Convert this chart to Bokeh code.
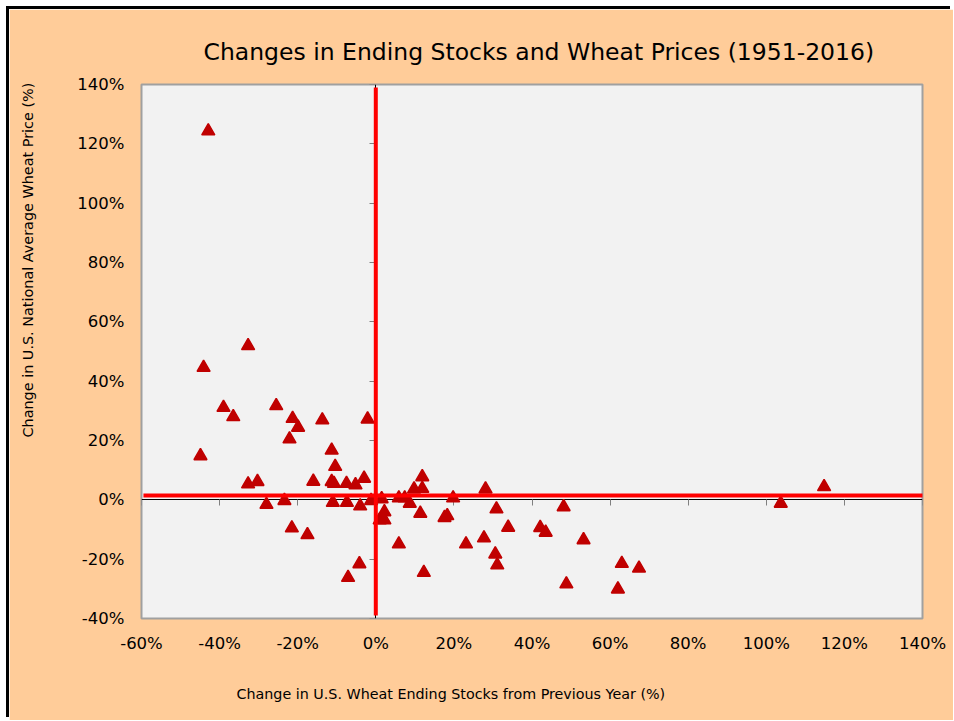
from bokeh.plotting import figure
from bokeh.models import Range1d, LinearAxis, FixedTicker, PrintfTickFormatter, Title
from bokeh.embed import file_html
from bokeh.resources import INLINE

# Change in U.S. wheat ending stocks from previous year (%)
stock_change = [
    -42.9, -32.7, -44.1, -39.0, -36.5, -25.5, -21.3, -19.9, -22.1, -13.7,
    -2.1, -11.3, -44.9, -10.4, -32.7, -30.3, -16.0, -11.3, -10.7, -7.5,
    -5.2, -3.0, -28.0, -23.4, -11.0, -7.4, -4.0, -1.2, 1.5, 2.2,
    1.0, 2.2, -21.5, -17.5, -4.2, -7.1, 5.9, 7.4, 8.7, 9.8,
    11.9, 11.9, 11.4, 5.9, 12.3, 19.8, 17.6, 18.3, 28.1, 30.9,
    33.9, 23.1, 27.7, 30.6, 31.1, 42.1, 43.5, 48.1, 53.2, 48.8,
    63.0, 67.4, 62.0, 103.7, 114.8,
]
# Change in U.S. national average wheat price (%)
price_change = [
    124.3, 51.9, 44.6, 31.1, 28.0, 31.7, 27.4, 24.4, 20.5, 26.9,
    27.2, 16.7, 14.8, 11.2, 5.3, 6.1, 6.2, 6.1, 5.5, 5.5,
    5.0, 7.2, -1.6, -0.3, -0.9, -0.9, -2.1, -0.3, 0.3, -4.1,
    -6.8, -6.8, -9.5, -11.8, -21.6, -26.2, 0.6, 0.6, -1.2, 3.6,
    7.7, 3.8, -4.6, -14.9, -24.5, 0.6, -6.0, -5.4, 3.6, -3.1,
    -9.3, -14.9, -12.9, -18.3, -22.0, -9.4, -11.0, -2.4, -13.5, -28.4,
    -21.5, -23.1, -30.1, -1.2, 4.4,
]

x_ticks = [-60, -40, -20, 0, 20, 40, 60, 80, 100, 120, 140]
y_ticks = [-40, -20, 0, 20, 40, 60, 80, 100, 120, 140]

# reference lines
vline_x = [0, 0]
vline_y = [-39, 139]
hline_x = [-59.5, 141.5]
hline_y = [1.5, 1.5]

FONT = "DejaVu Sans"

p = figure(
    width=944, height=711,
    x_range=Range1d(-60, 140), y_range=Range1d(-40, 140),
    output_backend="svg", toolbar_location=None,
    min_border_left=132, min_border_right=31,
    min_border_top=75, min_border_bottom=102,
    background_fill_color="#F2F2F2", border_fill_color="#FFCC99",
    outline_line_color="#A0A0A0", outline_line_width=2,
)
p.styles = {"margin-top": "9px", "margin-left": "9px",
            "box-shadow": "-3px -3px 0px 0px #000000"}
p.grid.visible = False

# main title
p.title.text = "Changes in Ending Stocks and Wheat Prices (1951-2016)"
p.title.text_font = FONT
p.title.text_font_size = "23.5px"
p.title.text_font_style = "normal"
p.title.text_color = "#000000"
p.title.align = "left"
p.title.offset = 62
p.title.standoff = 38

# label-only outer axes
for ax, ticks in ((p.xaxis[0], x_ticks), (p.yaxis[0], y_ticks)):
    ax.ticker = FixedTicker(ticks=ticks, minor_ticks=[])
    ax.formatter = PrintfTickFormatter(format="%d%%")
    ax.axis_line_color = None
    ax.major_tick_line_color = None
    ax.minor_tick_line_color = None
    ax.major_tick_out = 0
    ax.major_tick_in = 0
    ax.major_label_text_font = FONT
    ax.major_label_text_font_size = "16.5px"
    ax.major_label_text_color = "#000000"
p.xaxis[0].major_label_standoff = 15
p.yaxis[0].major_label_standoff = 17

# axes crossing at zero
x0 = LinearAxis(fixed_location=0, ticker=FixedTicker(ticks=x_ticks, minor_ticks=[]),
                axis_line_color="#000000", axis_line_width=1,
                major_tick_line_color="#808080", major_tick_out=6, major_tick_in=0,
                minor_tick_line_color=None, major_label_text_color=None,
                major_label_text_font_size="0px", major_label_standoff=0, level="underlay")
y0 = LinearAxis(fixed_location=0, ticker=FixedTicker(ticks=y_ticks, minor_ticks=[]),
                axis_line_color="#000000", axis_line_width=1,
                major_tick_line_color="#808080", major_tick_out=6, major_tick_in=0,
                minor_tick_line_color=None, major_label_text_color=None,
                major_label_text_font_size="0px", major_label_standoff=0, level="underlay")
p.add_layout(x0, "below")
p.add_layout(y0, "left")

p.scatter(stock_change, price_change, marker="triangle", size=13,
          fill_color="#C00000", line_color="#C00000", line_width=1.5)

p.line(vline_x, vline_y, line_color="#FF0000", line_width=4)
p.line(hline_x, hline_y, line_color="#FF0000", line_width=4)

# axis titles (blank companion lines push each title away from the frame)
xlab = Title(text=" \nChange in U.S. Wheat Ending Stocks from Previous Year (%)",
             align="left", offset=95, standoff=0, text_font=FONT,
             text_line_height=1.81,
             text_font_size="14.3px", text_font_style="normal", text_color="#000000")
ylab = Title(text="Change in U.S. National Average Wheat Price (%)\n \n ",
             align="left", offset=181, standoff=0, text_font=FONT,
             text_line_height=1.2,
             text_font_size="14.4px", text_font_style="normal", text_color="#000000")
p.add_layout(xlab, "below")
p.add_layout(ylab, "left")

open("out.html", "w").write(file_html(p, INLINE))
